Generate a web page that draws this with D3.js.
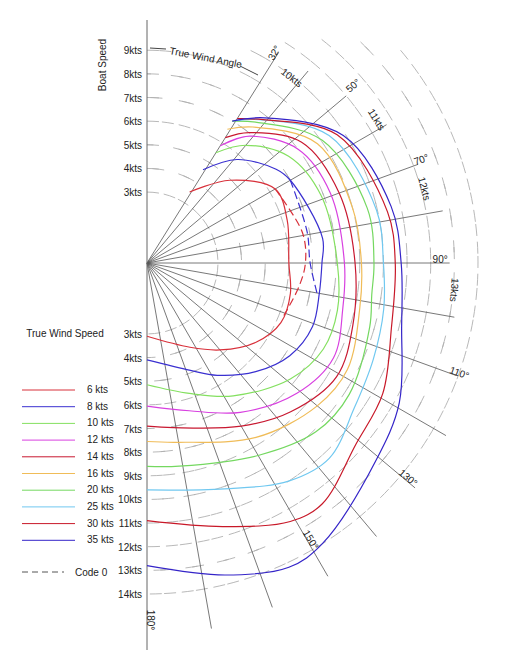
<!DOCTYPE html>
<html>
<head>
<meta charset="utf-8">
<script src="https://cdn.jsdelivr.net/npm/d3@7"></script>
<style>
body{margin:0;background:#fff}
text{font-family:"Liberation Sans",Arial,sans-serif;font-size:10px;fill:#222}
</style>
</head>
<body>
<svg width="512" height="670"></svg>
<script>
//wind speeds and colours of the polar curves
var windSpeeds = ["6 kts","8 kts","10 kts","12 kts","14 kts","16 kts","20 kts","25 kts","30 kts","35 kts"]
var colors = ["#d8303a","#3a30d0","#84e060","#d840e0","#c81830","#f0bc58","#74d860","#70c8f0","#c81828","#3424c8"]

//each curve is [angle deg, boat speed kts]
var polar6  = [[31,3.5],[45,4.95],[60,6.26],[73,6.2],[90,6.0],[102,6.2],[114,6.2],[126,5.7],[140,4.8],[153,4.0],[180,3.1]]
var polar8  = [[31,4.6],[41,5.8],[54,6.75],[60,7.0],[82,7.5],[90,7.4],[100,7.4],[111,7.5],[123,7.2],[135,6.5],[148,5.6],[158,4.9],[180,4.1]]
var polar10 = [[32,5.5],[40,6.5],[53,7.5],[69,7.9],[90,8.05],[104,8.3],[116,8.3],[129,7.8],[147,6.7],[162,5.8],[180,5.15]]
var polar12 = [[32,5.85],[39,6.9],[53,8.0],[69,8.3],[90,8.35],[103,8.5],[117,8.85],[131,8.4],[148,7.45],[164,6.5],[180,6.05]]
var polar14 = [[32,6.25],[38,7.0],[52,8.3],[70,8.65],[90,8.8],[107,9.1],[121,9.35],[136,8.75],[150,7.97],[171,7.05],[180,6.9]]
var polar16 = [[31,6.6],[38,7.3],[55,8.8],[75,9.0],[90,9.07],[102,9.2],[118,9.6],[130,9.4],[148,8.7],[170,7.7],[180,7.55]]
var polar20 = [[31,7.0],[38,7.55],[55,9.05],[76,9.6],[90,9.6],[98,9.6],[106,9.8],[123,10.2],[135,10.1],[150,9.4],[171,8.7],[180,8.6]]
var polar25 = [[32,7.1],[38,7.7],[55,9.4],[77,9.96],[90,10.0],[101,10.2],[113,10.4],[125,10.7],[137,11.3],[147,11.0],[161,10.1],[180,9.6]]
var polar30 = [[32,7.2],[39,7.8],[56,9.7],[78,10.4],[90,10.5],[105,10.7],[119,11.4],[131,11.7],[144,12.6],[151,12.5],[164,11.6],[180,10.9]]
var polar35 = [[31,7.0],[39,7.9],[57,9.9],[77,10.6],[90,10.75],[104,11.1],[119,12.2],[131,12.8],[148,14.0],[155,14.2],[166,13.6],[180,12.8]]
var polars = [polar6,polar8,polar10,polar12,polar14,polar16,polar20,polar25,polar30,polar35]

//code 0 (dashed) curves for 6 and 8 kts
var code0_6 = [[60,6.26],[79,6.7],[90,6.7],[99,6.5],[111,6.2]]
var code0_8 = [[60,7.0],[79,6.9],[90,6.9],[100,7.3]]

//rays and their lengths in kts
var rayAngles = [32,40,50,60,70,80,90,100,110,120,130,140,150,160,170]
var rayLengths = [10.5,10.6,11,11.7,12.2,12.7,12.8,13.2,13.9,14.6,14.8,15.1,15.3,15.5,15.7]
var upperTicks = [3,4,5,6,7,8,9]
var lowerTicks = [3,4,5,6,7,8,9,10,11,12,13,14]
var angleLabels = [[32,10.4,"32°"],[50,11.5,"50°"],[70,12.4,"70°"],[90,12.4,"90°"],[110,14.0,"110°"],[130,14.3,"130°"],[150,13.6,"150°"],[180,15.1,"180°"]]
var ringLabels = [[38,9.8,"10kts"],[58,11.3,"11kts"],[75,12.0,"12kts"],[95,12.9,"13kts"]]

var svg = d3.select("svg")
var cx = 147, cy = 263
var r = d3.scaleLinear().domain([0,14]).range([0,331])
var rad = function(a){ return a*Math.PI/180 }
var pt = function(a,k){ return [cx+r(k)*Math.sin(rad(a)), cy-r(k)*Math.cos(rad(a))] }

var g = svg.append("g")

//dashed speed rings
lowerTicks.forEach(function(k){
    var start = k>9 ? rad(20+(k-9)*6) : 0
    var arc = d3.arc().innerRadius(r(k)).outerRadius(r(k)).startAngle(start).endAngle(Math.PI)
    g.append("path").attr("d",arc()).attr("transform","translate("+cx+","+cy+")")
     .attr("fill","none").attr("stroke","#b0b0b0").attr("stroke-width",0.9)
     .attr("stroke-dasharray","12,20")
})

//rays
rayAngles.forEach(function(a,i){
    var p = pt(a,rayLengths[i])
    g.append("line").attr("x1",cx).attr("y1",cy).attr("x2",p[0]).attr("y2",p[1])
     .attr("stroke","#555").attr("stroke-width",0.8)
})
g.append("line").attr("x1",cx).attr("y1",20).attr("x2",cx).attr("y2",650).attr("stroke","#666").attr("stroke-width",1)

//axis labels
upperTicks.forEach(function(k){
    g.append("text").attr("x",142).attr("y",cy-r(k)+4).attr("text-anchor","end").text(k+"kts")
})
lowerTicks.forEach(function(k){
    g.append("text").attr("x",142).attr("y",cy+r(k)+4).attr("text-anchor","end").text(k+"kts")
})
g.append("text").attr("transform","translate(106,65) rotate(-90)").attr("text-anchor","middle").text("Boat Speed")
g.append("text").attr("transform","translate(169,54) rotate(11)").attr("fill","#444").text("True Wind Angle")
g.append("line").attr("x1",150).attr("y1",48).attr("x2",166).attr("y2",49).attr("stroke","#444")
g.append("line").attr("x1",240).attr("y1",66).attr("x2",258).attr("y2",75).attr("stroke","#444")

angleLabels.forEach(function(d){
    var p = pt(d[0],d[1])
    var rot = d[0]==180 ? 90 : (d[0]==90 ? 0 : d[0]-90)
    if(d[0]==32) rot = -60
    g.append("text").attr("transform","translate("+p[0]+","+p[1]+") rotate("+rot+")")
     .attr("text-anchor","middle").text(d[2])
})
ringLabels.forEach(function(d){
    var p = pt(d[0],d[1])
    g.append("text").attr("transform","translate("+p[0]+","+p[1]+") rotate("+d[0]+")")
     .attr("text-anchor","middle").text(d[2])
})

//polar curves
var line = d3.lineRadial().angle(function(d){ return rad(d[0]) }).radius(function(d){ return r(d[1]) })
    .curve(d3.curveCatmullRom)
polars.forEach(function(p,i){
    g.append("path").attr("d",line(p)).attr("transform","translate("+cx+","+cy+")")
     .attr("fill","none").attr("stroke",colors[i]).attr("stroke-width",1.2)
})
;[[code0_6,colors[0]],[code0_8,colors[1]]].forEach(function(c){
    g.append("path").attr("d",line(c[0])).attr("transform","translate("+cx+","+cy+")")
     .attr("fill","none").attr("stroke",c[1]).attr("stroke-width",1.2).attr("stroke-dasharray","8,4")
})

//legend
svg.append("text").attr("x",65).attr("y",337).attr("text-anchor","middle").text("True Wind Speed")
windSpeeds.forEach(function(s,i){
    var y = 390+i*16.7
    svg.append("line").attr("x1",22).attr("x2",75).attr("y1",y).attr("y2",y).attr("stroke",colors[i])
    svg.append("text").attr("x",87).attr("y",y+3).text(s)
})
svg.append("line").attr("x1",22).attr("x2",64).attr("y1",572).attr("y2",572).attr("stroke","#555").attr("stroke-dasharray","6,4")
svg.append("text").attr("x",75).attr("y",576).text("Code 0")
</script>
</body>
</html>
